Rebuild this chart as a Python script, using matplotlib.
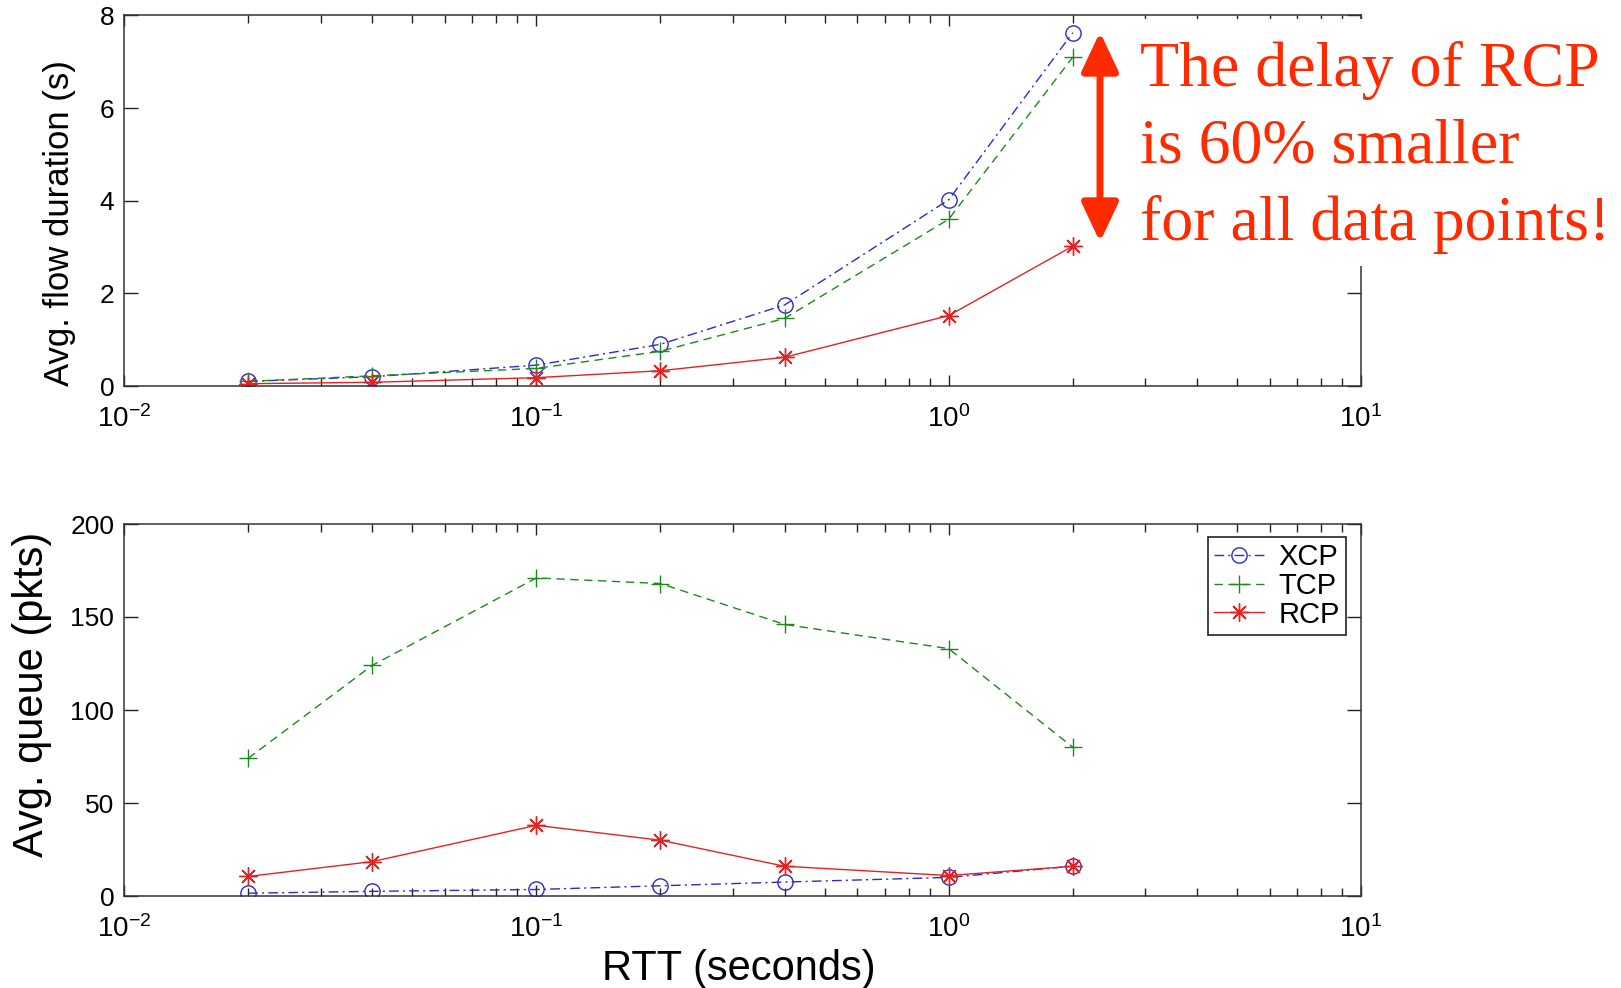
import matplotlib
matplotlib.use("Agg")
import matplotlib.pyplot as plt
from matplotlib.patches import Rectangle, FancyArrowPatch
from matplotlib.ticker import LogLocator, NullFormatter

plt.rcParams['font.family'] = ['Liberation Sans', 'DejaVu Sans']
plt.rcParams['mathtext.default'] = 'regular'

# ---- data ----
rtt = [0.02, 0.04, 0.1, 0.2, 0.4, 1.0, 2.0]
series_names = ["XCP", "TCP", "RCP"]
dur_xcp = [0.10, 0.20, 0.45, 0.90, 1.75, 4.02, 7.63]
dur_tcp = [0.10, 0.22, 0.38, 0.75, 1.46, 3.60, 7.10]
dur_rcp = [0.05, 0.08, 0.18, 0.33, 0.62, 1.52, 3.02]
q_xcp = [1.5, 2.5, 3.5, 5.5, 7.5, 10.0, 16.0]
q_tcp = [74, 124, 171, 168, 146, 133, 80]
q_rcp = [10.5, 18.5, 38, 30, 16, 11, 16]
top_yticks = [0, 2, 4, 6, 8]
bot_yticks = [0, 50, 100, 150, 200]
annotation_lines = ["The delay of RCP", "is 60% smaller", "for all data points!"]

W, H = 1621, 988
fig = plt.figure(figsize=(W / 100, H / 100), dpi=100)

def fx(px):
    return px / W

def fy(py):
    return 1 - py / H

ax1 = fig.add_axes([fx(124), fy(386), fx(1361) - fx(124), fy(15.5) - fy(386)])
ax2 = fig.add_axes([fx(124), fy(896), fx(1361) - fx(124), fy(524) - fy(896)])

styles = [
    dict(color='#2b2bc8', linestyle=(0, (7, 3, 1.5, 3)), marker='o', markersize=11,
         fillstyle='none', markeredgewidth=1.0),
    dict(color='#1b8a1b', linestyle=(0, (6, 4)), marker='+', markersize=13, markeredgewidth=1.0),
    dict(color='#e52222', linestyle='-', marker=(8, 2, 0), markersize=13, markeredgewidth=1.0),
]

for ax, ys in [(ax1, [dur_xcp, dur_tcp, dur_rcp]), (ax2, [q_xcp, q_tcp, q_rcp])]:
    for name, y, st in zip(series_names, ys, styles):
        ax.plot(rtt, y, label=name, linewidth=1.0, **st)
    ax.set_xscale('log')
    ax.set_xlim(0.01, 10)
    ax.xaxis.set_major_locator(LogLocator(base=10, numticks=10))
    ax.xaxis.set_minor_locator(LogLocator(base=10, subs=range(2, 10), numticks=20))
    ax.xaxis.set_minor_formatter(NullFormatter())
    ax.tick_params(axis='both', which='both', direction='in', top=True, right=True,
                   color='#222222', width=1.0)
    ax.tick_params(axis='x', which='major', length=8, pad=14, labelsize=20)
    ax.tick_params(axis='x', which='minor', length=6)
    ax.tick_params(axis='y', which='major', length=10, pad=7, labelsize=19)
    for sp in ax.spines.values():
        sp.set_color('#333333')
        sp.set_linewidth(1.1)

ax1.set_ylim(0, 8)
ax1.set_yticks(top_yticks)
ax2.set_ylim(0, 200)
ax2.set_yticks(bot_yticks)

ax1.set_ylabel("Avg. flow duration (s)", fontsize=25)
ax1.yaxis.set_label_coords(-0.0385, 0.44)
ax2.set_ylabel("Avg. queue (pkts)", fontsize=30)
ax2.yaxis.set_label_coords(-0.058, 0.543)
ax2.set_xlabel("RTT (seconds)", fontsize=30)
ax2.xaxis.set_label_coords(0.497, -0.142)

leg = ax2.legend(loc='upper right', bbox_to_anchor=(0.988, 0.965), borderaxespad=0,
                 fontsize=21, fancybox=False, edgecolor='#222222', framealpha=1,
                 handlelength=1.7, handletextpad=0.5, labelspacing=0.02,
                 borderpad=0.22)
leg.get_frame().set_linewidth(1.2)

# white area behind annotation (hides part of right spine)
fig.add_artist(Rectangle((fx(1125), fy(266)), fx(1621) - fx(1125), fy(19) - fy(266),
                         transform=fig.transFigure, facecolor='white', edgecolor='none',
                         zorder=5))

red = '#ff2a00'
arrow = FancyArrowPatch((fx(1100), fy(242)), (fx(1100), fy(32)),
                        transform=fig.transFigure,
                        arrowstyle='<|-|>,head_length=1.7,head_width=0.8',
                        color=red, linewidth=5, mutation_scale=14, zorder=6,
                        shrinkA=0, shrinkB=0)
fig.add_artist(arrow)

baselines = [86, 162, 240]
for line, b in zip(annotation_lines, baselines):
    fig.text(fx(1140), fy(b), line, fontsize=46, color=red, family='Liberation Serif',
             ha='left', va='baseline', zorder=7)

fig.savefig('out.png', dpi=100, facecolor='white')
